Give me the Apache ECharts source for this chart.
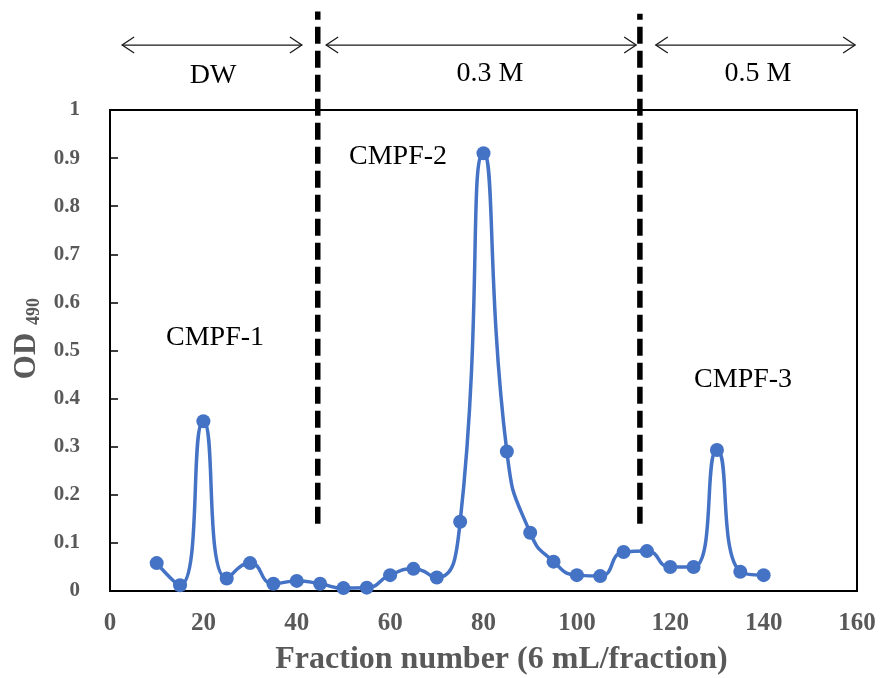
<!DOCTYPE html>
<html>
<head>
<meta charset="utf-8">
<script src="https://cdn.jsdelivr.net/npm/echarts@6/dist/echarts.min.js"></script>
<style>
  html, body { margin: 0; padding: 0; background: #fff; }
  #chart { width: 884px; height: 678px; }
</style>
</head>
<body>
<div id="chart"></div>
<script>
// Elution profile: fraction number vs. absorbance at 490 nm
const fractions = [10, 15, 20, 25, 30, 35, 40, 45, 50, 55, 60, 65, 70, 75, 80,
                   85, 90, 95, 100, 105, 110, 115, 120, 125, 130, 135, 140];
const od490 = [0.058, 0.012, 0.353, 0.026, 0.058, 0.015, 0.021, 0.015, 0.006, 0.007,
               0.033, 0.046, 0.028, 0.144, 0.910, 0.290, 0.121, 0.061, 0.033, 0.031,
               0.081, 0.083, 0.050, 0.050, 0.293, 0.040, 0.033];

// Eluent steps (fraction numbers where the NaCl concentration changes)
const bufferBoundaries = [44.5, 113.5];
const bufferNames = ['DW', '0.3 M', '0.5 M'];
const bufferSpans = [[2.6, 41.1], [46.3, 112.7], [116.9, 159.6]];

// Peak names
const peakNames = ['CMPF-1', 'CMPF-2', 'CMPF-3'];

// Annotation anchors, in axis units
const layout = {
  bufferLabelAt: [[22.1, 1.071], [81.4, 1.075], [138.8, 1.075]],
  arrowY: 1.135,
  boundaryTop: [1.205, 1.2],
  boundaryBottom: 0.14,
  peakLabelAt: [[22.5, 0.526], [61.7, 0.902], [135.6, 0.439]]
};

const SERIF = '"Liberation Serif", "Times New Roman", serif';
const AXIS_GREY = '#595959';

const chart = echarts.init(document.getElementById('chart'), null, { renderer: 'canvas' });

chart.setOption({
  animation: false,
  grid: {
    left: 110, right: 27, top: 110, bottom: 87,
    outerBoundsMode: 'none',
    containLabel: false,
    show: true, borderColor: '#000', borderWidth: 2, backgroundColor: 'transparent'
  },
  xAxis: {
    type: 'value', min: 0, max: 160, interval: 20,
    splitLine: { show: false },
    axisTick: { show: false },
    axisLine: { lineStyle: { color: '#000', width: 2 } },
    axisLabel: { fontFamily: SERIF, fontWeight: 'bold', fontSize: 25, color: AXIS_GREY, margin: 20 },
    name: 'Fraction number (6 mL/fraction)',
    nameLocation: 'middle',
    nameGap: 53,
    nameTextStyle: {
      fontFamily: SERIF, fontWeight: 'bold', fontSize: 32, color: AXIS_GREY,
      padding: [0, 0, 0, 36]
    }
  },
  yAxis: {
    type: 'value', min: 0, max: 1, interval: 0.1,
    splitLine: { show: false },
    axisTick: { show: true, inside: true, length: 8, lineStyle: { color: '#000', width: 1.5 } },
    axisLine: { show: true, lineStyle: { color: '#000', width: 2 } },
    axisLabel: { fontFamily: SERIF, fontWeight: 'bold', fontSize: 21, color: AXIS_GREY, margin: 30 },
    name: 'OD {sub|490}',
    nameLocation: 'middle',
    nameRotate: 90,
    nameGap: 67,
    nameTextStyle: {
      fontFamily: SERIF, fontWeight: 'bold', fontSize: 31, color: AXIS_GREY,
      padding: [0, 0, 0, 24],
      rich: {
        sub: { fontFamily: SERIF, fontWeight: 'bold', fontSize: 18, color: AXIS_GREY, verticalAlign: 'bottom' }
      }
    }
  },
  series: [{
    type: 'line',
    data: fractions.map((f, i) => [f, od490[i]]),
    smooth: 0.55,
    symbol: 'circle',
    symbolSize: 14,
    lineStyle: { color: '#4472C4', width: 3.5 },
    itemStyle: { color: '#4472C4' },
    z: 5
  }]
});

// Annotations: eluent boundaries, range arrows and labels
function px(x, y) { return chart.convertToPixel({ gridIndex: 0 }, [x, y]); }

const graphics = [];
const INK = '#1a1a1a';

// Dashed boundaries are stroked upward so the dash pattern starts whole at the bottom
bufferBoundaries.forEach((b, i) => {
  const top = px(b, layout.boundaryTop[i]);
  const bot = px(b, layout.boundaryBottom);
  graphics.push({
    type: 'line', z: 10,
    shape: { x1: bot[0], y1: bot[1], x2: top[0], y2: top[1] },
    style: { stroke: '#000', lineWidth: 5.5, lineDash: [17, 7] }
  });
});

bufferSpans.forEach(([a, b]) => {
  const p1 = px(a, layout.arrowY);
  const p2 = px(b, layout.arrowY);
  const y = p1[1];
  const head = 12, half = 8;
  graphics.push({
    type: 'line', z: 10,
    shape: { x1: p1[0], y1: y, x2: p2[0], y2: y },
    style: { stroke: INK, lineWidth: 1.3 }
  });
  graphics.push({
    type: 'polyline', z: 10,
    shape: { points: [[p1[0] + head, y - half], [p1[0], y], [p1[0] + head, y + half]] },
    style: { stroke: INK, lineWidth: 1.3, fill: null }
  });
  graphics.push({
    type: 'polyline', z: 10,
    shape: { points: [[p2[0] - head, y - half], [p2[0], y], [p2[0] - head, y + half]] },
    style: { stroke: INK, lineWidth: 1.3, fill: null }
  });
});

function addLabel(text, at) {
  const p = px(at[0], at[1]);
  graphics.push({
    type: 'text', z: 11, x: p[0], y: p[1],
    style: {
      text: text, fill: '#000',
      font: '28px ' + SERIF,
      textAlign: 'center', textVerticalAlign: 'middle',
      align: 'center', verticalAlign: 'middle'
    }
  });
}
bufferNames.forEach((t, i) => addLabel(t, layout.bufferLabelAt[i]));
peakNames.forEach((t, i) => addLabel(t, layout.peakLabelAt[i]));

chart.setOption({ graphic: graphics });
</script>
</body>
</html>
